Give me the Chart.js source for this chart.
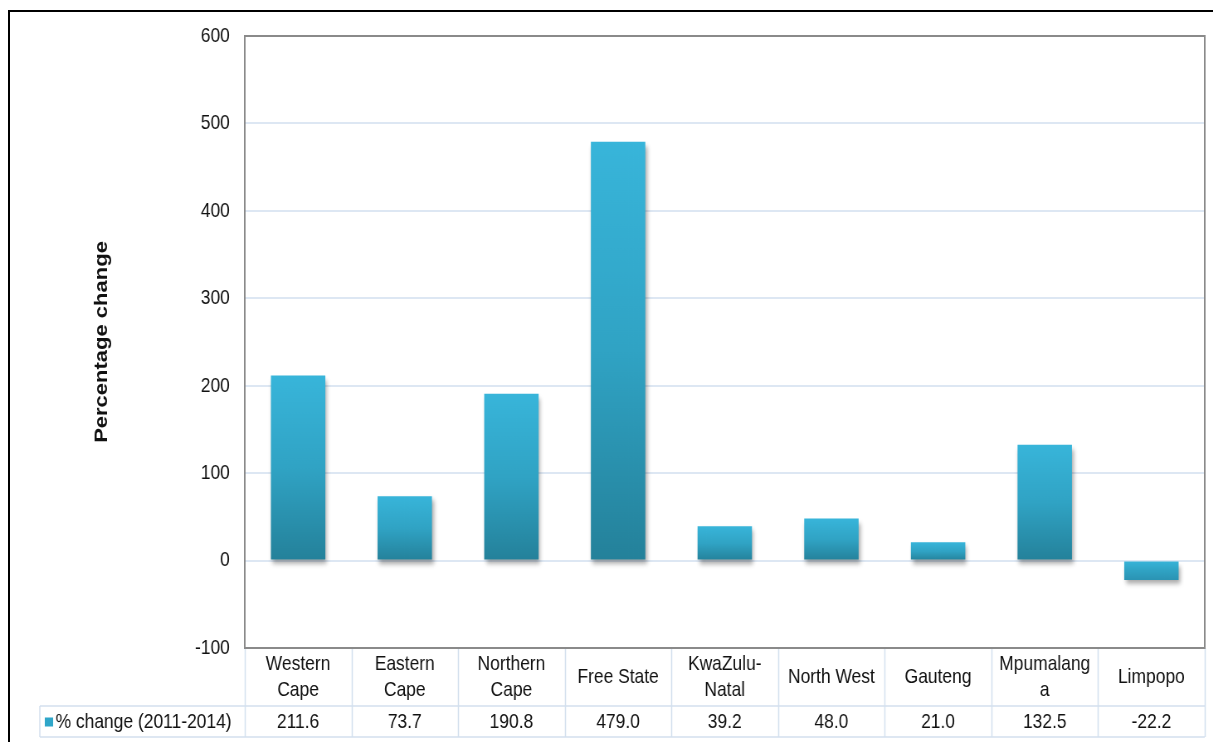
<!DOCTYPE html>
<html>
<head>
<meta charset="utf-8">
<title>Percentage change by province</title>
<script src="https://cdn.jsdelivr.net/npm/chart.js@4.4.1/dist/chart.umd.min.js"></script>
<style>
  html, body { margin: 0; padding: 0; background: #fff; overflow: hidden; }
  #frame { position: absolute; left: 8px; top: 10px; width: 1300px; height: 800px; border: 2px solid #000; }
  /* chart is laid out wide and squeezed horizontally, like the exported figure */
  #wrap { position: absolute; left: 0; top: 0; width: 1462px; height: 742px; transform: scaleX(0.8297); transform-origin: 0 0; }
</style>
</head>
<body>
<div id="frame"></div>
<div id="wrap"><canvas id="chart" width="1462" height="742"></canvas></div>
<script>
const provinces = [
  ['Western', 'Cape'], ['Eastern', 'Cape'], ['Northern', 'Cape'], ['Free State'],
  ['KwaZulu-', 'Natal'], ['North West'], ['Gauteng'], ['Mpumalang', 'a'], ['Limpopo']
];
const pctChange = [211.6, 73.7, 190.8, 479.0, 39.2, 48.0, 21.0, 132.5, -22.2];
const yTicks = [-100, 0, 100, 200, 300, 400, 500, 600];
const seriesName = '% change (2011-2014)';
const axisTitle = 'Percentage change';

const FONT = '"Liberation Sans", Arial, sans-serif';
const TEXT = '#111';
const TABLE_LINE = '#d3e0ee';

// bar fill: light cyan at the top fading into dark teal at the bottom
const barFill = (context) => {
  const chart = context.chart;
  const y = chart.scales.y;
  if (!chart.chartArea || context.raw === undefined) return '#31a6c8';
  const v = context.raw;
  const top = y.getPixelForValue(Math.max(v, 0));
  const bottom = y.getPixelForValue(Math.min(v, 0));
  const g = chart.ctx.createLinearGradient(0, top, 0, bottom);
  g.addColorStop(0, '#38b5da');
  g.addColorStop(0.5, '#30a3c4');
  g.addColorStop(1, v < 0 ? '#2b93b3' : '#24819a');
  return g;
};

const dataTable = {
  id: 'dataTable',
  beforeDatasetsDraw(chart) {
    const ctx = chart.ctx;
    ctx.save();
    ctx.shadowColor = 'rgba(0, 0, 0, 0.35)';
    ctx.shadowBlur = 5;
    ctx.shadowOffsetX = 2;
    ctx.shadowOffsetY = 4;
  },
  afterDatasetsDraw(chart) {
    chart.ctx.restore();
  },
  afterDraw(chart) {
    const ctx = chart.ctx;
    const area = chart.chartArea;
    const x = chart.scales.x;
    const half = (x.getPixelForValue(1) - x.getPixelForValue(0)) / 2;
    const headTop = area.bottom;
    const rowSplit = 706;
    const tableBottom = 737;
    const legendLeft = 48;

    ctx.save();
    // table grid
    ctx.strokeStyle = TABLE_LINE;
    ctx.lineWidth = 1.5;
    ctx.beginPath();
    for (let i = 0; i <= provinces.length; i++) {
      const px = Math.round(x.getPixelForValue(i) - half) + 0.5;
      ctx.moveTo(px, headTop);
      ctx.lineTo(px, tableBottom);
    }
    ctx.moveTo(legendLeft, rowSplit);
    ctx.lineTo(legendLeft, tableBottom);
    ctx.moveTo(legendLeft, rowSplit);
    ctx.lineTo(area.right, rowSplit);
    ctx.moveTo(legendLeft, tableBottom);
    ctx.lineTo(area.right, tableBottom);
    ctx.stroke();

    // plot frame
    ctx.strokeStyle = '#8a8a8a';
    ctx.lineWidth = 2;
    ctx.strokeRect(area.left, area.top, area.right - area.left, area.bottom - area.top);

    // header row: province names, value row: numbers
    ctx.fillStyle = TEXT;
    ctx.font = '21px ' + FONT;
    ctx.textAlign = 'center';
    ctx.textBaseline = 'middle';
    const headMid = (headTop + rowSplit) / 2;
    const lineH = 26;
    provinces.forEach((lines, i) => {
      const cx = x.getPixelForValue(i);
      const y0 = headMid - (lines.length - 1) * lineH / 2;
      lines.forEach((t, j) => ctx.fillText(t, cx, y0 + j * lineH));
      ctx.fillText(pctChange[i].toFixed(1), cx, (rowSplit + tableBottom) / 2 + 1);
    });

    // legend key in the first column
    const rowMid = (rowSplit + tableBottom) / 2;
    ctx.fillStyle = '#2fa6c9';
    ctx.fillRect(54, rowMid - 4, 10, 9);
    ctx.fillStyle = TEXT;
    ctx.textAlign = 'left';
    ctx.fillText(seriesName, 67, rowMid + 1);
    ctx.restore();
  }
};

new Chart(document.getElementById('chart'), {
  type: 'bar',
  data: {
    labels: provinces.map(l => l.join(' ')),
    datasets: [{
      label: seriesName,
      data: pctChange,
      backgroundColor: barFill,
      borderWidth: 0,
      categoryPercentage: 1,
      barPercentage: 0.51
    }]
  },
  options: {
    responsive: false,
    animation: false,
    layout: { padding: { top: 36, right: 10, bottom: 94, left: 0 } },
    plugins: { legend: { display: false }, tooltip: { enabled: false } },
    scales: {
      x: { display: false },
      y: {
        min: -100,
        max: 600,
        afterBuildTicks: (scale) => { scale.ticks = yTicks.map(v => ({ value: v })); },
        afterFit: (scale) => { scale.width = 295; },
        grid: { color: '#dde7f3', lineWidth: 2, drawTicks: false },
        border: { display: false },
        ticks: { padding: 18, color: TEXT, font: { family: FONT, size: 21 } },
        title: {
          display: true,
          text: axisTitle,
          color: TEXT,
          font: { family: FONT, size: 22, weight: 'bold' },
          padding: { top: 110, bottom: 0 }
        }
      }
    }
  },
  plugins: [dataTable]
});
</script>
</body>
</html>
